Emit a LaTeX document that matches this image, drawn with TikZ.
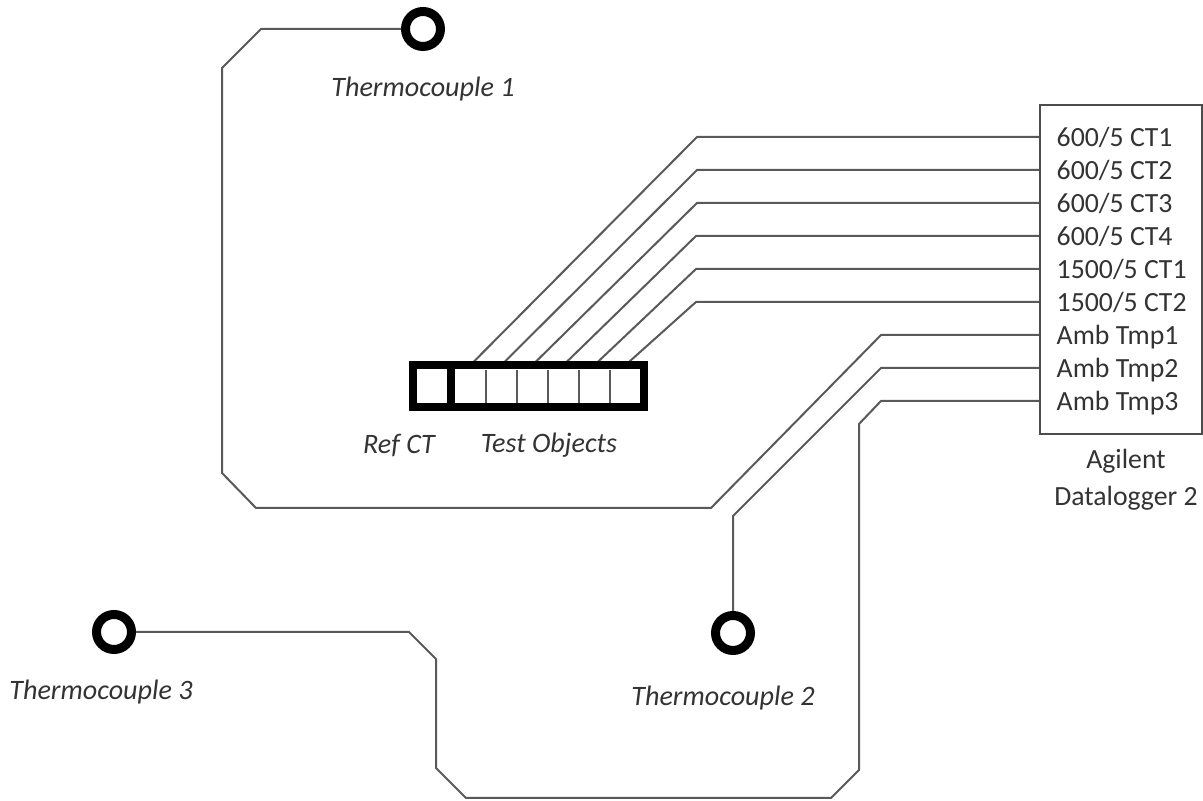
\documentclass[tikz,border=0pt]{standalone}
\usepackage{fontspec}
\setmainfont{Carlito}
\usetikzlibrary{positioning}

\begin{document}
\begin{tikzpicture}[font=\fontsize{7.9pt}{9pt}\selectfont,
    wire/.style={draw=black!65, line width=0.02cm},
    sensor/.style={circle, draw=black, line width=0.09cm, fill=white, minimum size=0.35cm, inner sep=0pt},
    objcell/.style={minimum width=0.31cm, minimum height=0.33cm, inner sep=0pt, outer sep=0pt},
    chan/.style={anchor=west, inner sep=0pt, text height=1.9mm, text depth=0pt, text=black!80},
    caption/.style={font=\fontsize{8pt}{9pt}\selectfont\itshape, text=black!80, inner sep=0pt}]
  \useasboundingbox (0,0) rectangle (12.03,-8.01);

  % --- datalogger ---
  \node[draw=black!70, line width=0.02cm, minimum width=1.62cm, minimum height=3.29cm, inner sep=0pt] (logger) at (11.21,-2.695) {};
  \node[chan] (ch1) at (10.56,-1.37) {600/5 CT1};
  \node[chan] (ch2) at (10.56,-1.70) {600/5 CT2};
  \node[chan] (ch3) at (10.56,-2.03) {600/5 CT3};
  \node[chan] (ch4) at (10.56,-2.36) {600/5 CT4};
  \node[chan] (ch5) at (10.56,-2.69) {1500/5 CT1};
  \node[chan] (ch6) at (10.56,-3.02) {1500/5 CT2};
  \node[chan] (ch7) at (10.56,-3.35) {Amb Tmp1};
  \node[chan] (ch8) at (10.56,-3.68) {Amb Tmp2};
  \node[chan] (ch9) at (10.56,-4.01) {Amb Tmp3};
  \node[align=center, text=black!80, inner sep=0pt] (loggername) at (11.26,-4.80) {Agilent\\[0.55mm]Datalogger 2};

  % --- ref CT y objetos de prueba ---
  \node[objcell] (refcell) at (4.32,-3.865) {};
  \node[objcell] (obj1) at (4.705,-3.865) {};
  \node[objcell, right=0pt of obj1] (obj2) {};
  \node[objcell, right=0pt of obj2] (obj3) {};
  \node[objcell, right=0pt of obj3] (obj4) {};
  \node[objcell, right=0pt of obj4] (obj5) {};
  \node[objcell, right=0pt of obj5] (obj6) {};

  \draw[wire] ([xshift=-0.1mm,yshift=0.4mm]obj1.north) -- (6.97,-1.37) -- (logger.west |- ch1);
  \draw[wire] ([xshift=-0.1mm,yshift=0.4mm]obj2.north) -- (6.97,-1.70) -- (logger.west |- ch2);
  \draw[wire] ([xshift=-0.1mm,yshift=0.4mm]obj3.north) -- (6.97,-2.03) -- (logger.west |- ch3);
  \draw[wire] ([xshift=-0.1mm,yshift=0.4mm]obj4.north) -- (6.96,-2.36) -- (logger.west |- ch4);
  \draw[wire] ([xshift=-0.1mm,yshift=0.4mm]obj5.north) -- (6.96,-2.69) -- (logger.west |- ch5);
  \draw[wire] ([xshift=-0.1mm,yshift=0.4mm]obj6.north) -- (6.96,-3.02) -- (logger.west |- ch6);

  \node[draw=black, line width=0.08cm, minimum width=2.31cm, minimum height=0.42cm, inner sep=0pt] (rack) at (5.285,-3.865) {};
  \draw[line width=0.08cm] (4.51,-3.62) -- (4.51,-4.10);
  \draw[wire] (obj1.north east) -- (obj1.south east);
  \draw[wire] (obj2.north east) -- (obj2.south east);
  \draw[wire] (obj3.north east) -- (obj3.south east);
  \draw[wire] (obj4.north east) -- (obj4.south east);
  \draw[wire] (obj5.north east) -- (obj5.south east);

  \node[caption] (reflabel) at (3.99,-4.46) {Ref CT};
  \node[caption] (objlabel) at (5.49,-4.45) {Test Objects};

  % --- termopares ---
  \node[sensor] (tc1) at (4.23,-0.29) {};
  \node[sensor] (tc2) at (7.33,-6.33) {};
  \node[sensor] (tc3) at (1.14,-6.32) {};
  \node[caption] (tc1label) at (4.23,-0.89) {Thermocouple 1};
  \node[caption] (tc2label) at (7.23,-6.98) {Thermocouple 2};
  \node[caption] (tc3label) at (1.01,-6.92) {Thermocouple 3};

  \draw[wire] (logger.west |- ch7) -- (8.81,-3.35) -- (7.11,-5.08) -- (2.56,-5.08) -- (2.22,-4.73)
    -- (2.22,-0.68) -- (2.61,-0.29) -- (tc1);
  \draw[wire] (logger.west |- ch8) -- (8.81,-3.68) -- (7.33,-5.16) -- (tc2);
  \draw[wire] (logger.west |- ch9) -- (8.81,-4.01) -- (8.59,-4.24) -- (8.59,-7.70) -- (8.31,-7.98)
    -- (4.66,-7.98) -- (4.36,-7.68) -- (4.36,-6.59) -- (4.09,-6.32) -- (tc3);
\end{tikzpicture}
\end{document}
